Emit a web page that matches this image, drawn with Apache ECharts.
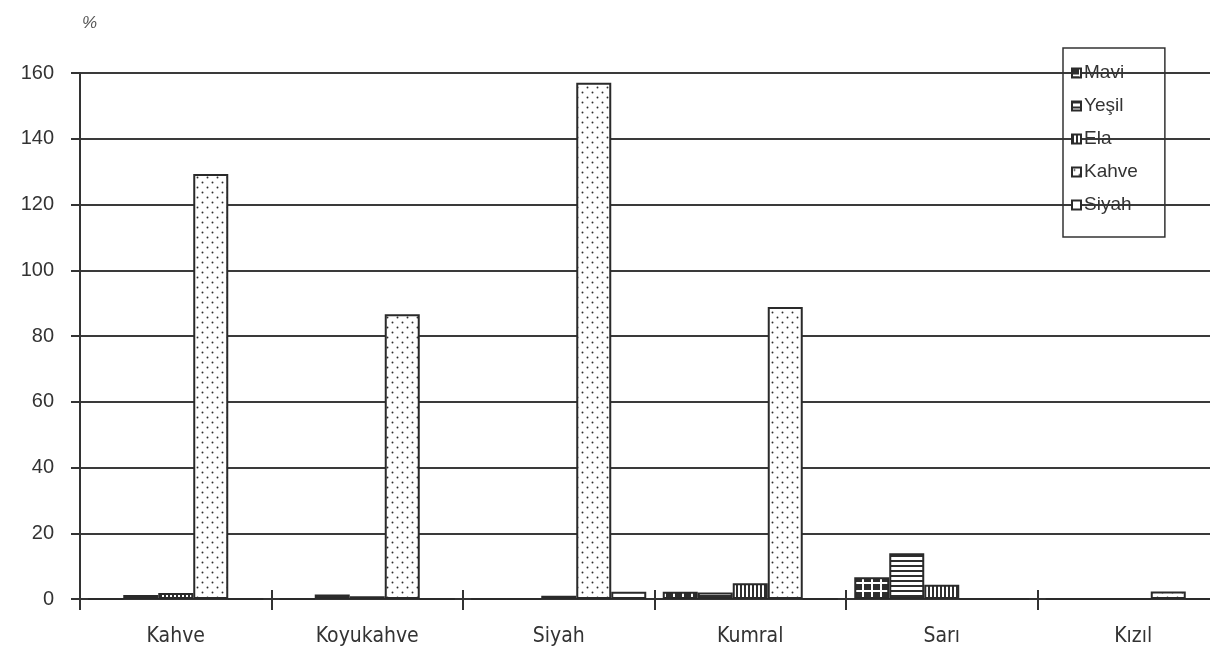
<!DOCTYPE html>
<html>
<head>
<meta charset="utf-8">
<script src="https://cdn.jsdelivr.net/npm/echarts@6/dist/echarts.min.js"></script>
<style>
  html, body { margin: 0; padding: 0; background: #fff; }
  #chart { width: 1210px; height: 652px; }
</style>
</head>
<body>
<div id="chart"></div>
<script>
// Hair colour categories and eye colour series (percent)
const categories = ['Kahve', 'Koyukahve', 'Siyah', 'Kumral', 'Sarı', 'Kızıl'];
const seriesNames = ['Mavi', 'Yeşil', 'Ela', 'Kahve', 'Siyah'];
const mavi  = [0,   0,   0,   2.2,  6.6,  0];
const yesil = [1.2, 1.4, 0,   2.0,  13.9, 0];
const ela   = [1.8, 0.8, 1.0, 4.8,  4.3,  0];
const kahve = [129.3, 86.6, 157, 88.8, 0, 2.3];
const siyah = [0,   0,   2.2, 0,    0,    0];
const yTicks = { min: 0, max: 160, step: 20 };

// Monochrome fill patterns, one per series
function pattern(w, h, draw) {
  const c = document.createElement('canvas');
  c.width = w; c.height = h;
  const g = c.getContext('2d');
  g.fillStyle = '#fff';
  g.fillRect(0, 0, w, h);
  g.fillStyle = '#2e2e2e';
  draw(g);
  return { image: c, repeat: 'repeat' };
}
const fills = [
  pattern(9, 8, g => { g.fillRect(0, 0, 9, 8); g.fillStyle = '#fff'; g.fillRect(7, 0, 2, 8); g.fillRect(0, 6, 9, 2); }),
  pattern(4, 5, g => { g.fillRect(0, 0, 4, 2); }),
  pattern(4, 4, g => { g.fillRect(0, 0, 2, 4); }),
  pattern(10, 10, g => {
    g.beginPath(); g.arc(2.5, 2.5, 0.95, 0, Math.PI * 2); g.fill();
    g.beginPath(); g.arc(7.5, 7.5, 0.95, 0, Math.PI * 2); g.fill();
  }),
  pattern(4, 4, () => {})
];
const seriesData = [mavi, yesil, ela, kahve, siyah];

const ink = '#333';
const chart = echarts.init(document.getElementById('chart'), null, { renderer: 'canvas' });
chart.setOption({
  animation: false,
  backgroundColor: '#fff',
  // the plot runs past the right edge of the page: the sixth slot is cut off
  grid: { left: 80, top: 73, height: 526, width: 1149, containLabel: false, outerBoundsMode: 'none' },
  legend: {
    orient: 'vertical',
    left: 1063,
    top: 48,
    padding: [15, 27, 22, 8],
    borderColor: ink,
    borderWidth: 1.5,
    itemWidth: 9,
    itemHeight: 9,
    itemGap: 13,
    icon: 'rect',
    textStyle: { fontFamily: 'Liberation Sans, Arial, sans-serif', fontSize: 19, color: '#333', lineHeight: 20, padding: [0, 0, 0, -2] },
    data: seriesNames
  },
  xAxis: [
    {
      type: 'category',
      data: categories,
      position: 'bottom',
      axisLine: { lineStyle: { color: ink, width: 2 } },
      axisTick: { show: true, length: 11, lineStyle: { color: ink, width: 2 } },
      axisLabel: { margin: 27, fontSize: 21, color: '#333', fontFamily: 'DejaVu Sans Condensed, Liberation Sans Narrow, Liberation Sans, sans-serif' },
      splitLine: { show: false }
    },
    {
      // inner half of the category ticks, so they cross the axis line
      type: 'category',
      data: categories,
      position: 'bottom',
      axisLine: { show: false },
      axisTick: { show: true, inside: true, length: 9, lineStyle: { color: ink, width: 2 } },
      axisLabel: { show: false },
      splitLine: { show: false }
    }
  ],
  yAxis: {
    type: 'value',
    min: yTicks.min,
    max: yTicks.max,
    interval: yTicks.step,
    name: '%',
    nameLocation: 'end',
    nameGap: 41,
    nameTextStyle: { fontStyle: 'italic', fontSize: 17, color: '#555', fontFamily: 'Liberation Sans, Arial, sans-serif', align: 'left', padding: [0, 0, 0, 2] },
    axisLine: { show: true, lineStyle: { color: ink, width: 2 } },
    axisTick: { show: true, length: 9, lineStyle: { color: ink, width: 2 } },
    axisLabel: { margin: 26, fontSize: 20, color: '#333', fontFamily: 'Liberation Sans, Arial, sans-serif' },
    splitLine: { show: true, lineStyle: { color: '#3a3a3a', width: 2 } }
  },
  series: seriesNames.map((name, i) => ({
    name: name,
    type: 'bar',
    xAxisIndex: 0,
    data: seriesData[i],
    barWidth: 35,
    barGap: '0%',
    itemStyle: { color: fills[i], borderColor: '#2a2a2a', borderWidth: 2 }
  }))
});
</script>
</body>
</html>
